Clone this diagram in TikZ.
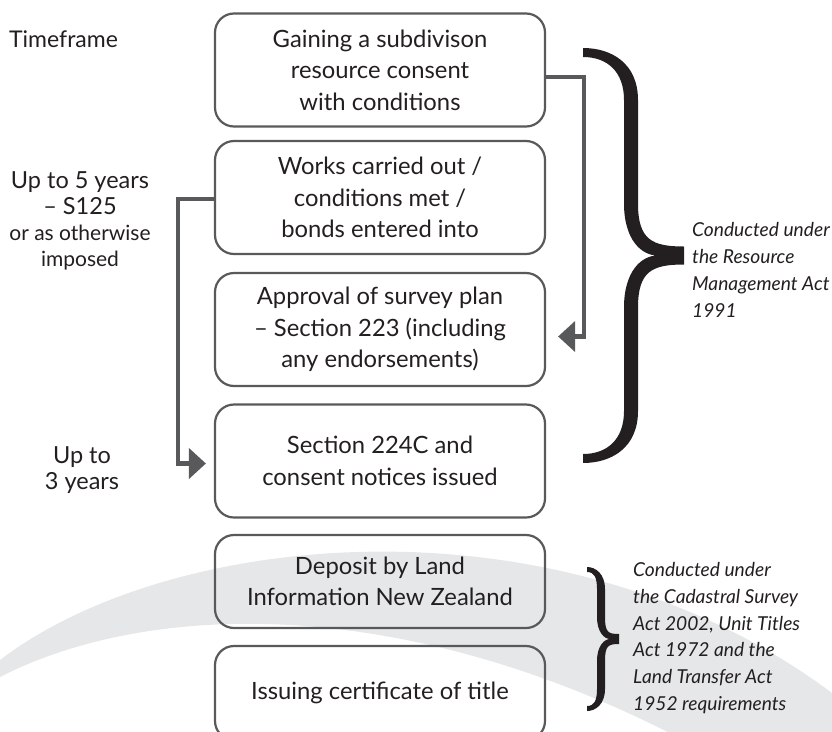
\documentclass[tikz,border=0pt]{standalone}
\usepackage{fontspec}
\setmainfont{Lato}
\usepackage{tikz}
\usetikzlibrary{calc,arrows.meta}
\definecolor{ink}{RGB}{35,31,32}
\definecolor{edge}{RGB}{88,89,91}
\definecolor{swoosh}{RGB}{230,231,232}
% filled curly brace: left, spine, tip, top, bottom, half width, hook, end
\newcommand\curly[8]{%
\fill[ink] (#1,#4) .. controls ({#1+0.6*(#2-#1)},#4) and ({#2+#6},{#4+0.3*#7}) .. ({#2+#6},{#4+#7})
 -- ({#2+#6},{(#4+#5)/2-#7}) .. controls ({#2+#6},{(#4+#5)/2-0.3*#7}) and ({#2+0.4*(#3-#2)},{(#4+#5)/2-#8}) .. (#3,{(#4+#5)/2-#8})
 -- (#3,{(#4+#5)/2+#8}) .. controls ({#2+0.4*(#3-#2)},{(#4+#5)/2+#8}) and ({#2+#6},{(#4+#5)/2+0.3*#7}) .. ({#2+#6},{(#4+#5)/2+#7})
 -- ({#2+#6},{#5-#7}) .. controls ({#2+#6},{#5-0.3*#7}) and ({#1+0.6*(#2-#1)},#5) .. (#1,#5)
 -- (#1,{#5-#8}) .. controls ({#1+0.5*(#2-#1)},{#5-#8}) and ({#2-#6},{#5-0.45*#7}) .. ({#2-#6},{#5-#7})
 -- ({#2-#6},{(#4+#5)/2+#7}) .. controls ({#2-#6},{(#4+#5)/2+0.3*#7}) and ({#2+0.2*(#3-#2)},{(#4+#5)/2}) .. ({#2+0.5*(#3-#2)},{(#4+#5)/2})
 .. controls ({#2+0.2*(#3-#2)},{(#4+#5)/2}) and ({#2-#6},{(#4+#5)/2-0.3*#7}) .. ({#2-#6},{(#4+#5)/2-#7})
 -- ({#2-#6},{#4+#7}) .. controls ({#2-#6},{#4+0.45*#7}) and ({#1+0.5*(#2-#1)},{#4+#8}) .. (#1,{#4+#8}) -- cycle;}
\begin{document}
\begin{tikzpicture}[x=1pt, y=-1pt, text=ink,
 box/.style={draw=edge, line width=2.2pt, rounded corners=19pt, minimum width=330pt, minimum height=113pt, align=center, inner sep=0pt, font=\fontsize{23.8}{31.5}\selectfont},
 flow/.style={draw=edge, line width=4.5pt, -{Triangle[length=17pt,width=30pt]}},
 lbl/.style={align=center, inner sep=0pt, font=\fontsize{23.5}{26}\selectfont},
 act/.style={align=left, anchor=west, inner sep=0pt, font=\fontsize{19.2}{26.8}\selectfont\itshape}]
\useasboundingbox (0,0) rectangle (832,731);
\fill[swoosh] (0,660) .. controls (170,530) and (560,490) .. (832,693) -- (832,760) -- (720,760) .. controls (420,590) and (150,600) .. (0,677) -- cycle;
\node[box] (consent) at (380,70) {Gaining a subdivison\\resource consent\\with conditions};
\node[box] (works) at (380,197.5) {Works carried out /\\conditions met /\\bonds entered into};
\node[box] (survey) at (380,329.5) {Approval of survey plan\\– Section 223 (including\\any endorsements)};
\node[box] (notices) at (380,461) {Section 224C and\\consent notices issued};
\node[box, minimum height=93pt] (deposit) at (380,581.5) {Deposit by Land\\Information New Zealand};
\node[box, minimum height=94pt] (title) at (380,693) {Issuing certificate of title};
\node[lbl, anchor=west, font=\fontsize{23}{26}\selectfont] (timeframe) at (9,39) {Timeframe};
\node[lbl] (five) at (80,221) {Up to 5 years\\– S125\\{\fontsize{21}{26}\selectfont or as otherwise}\\{\fontsize{21}{26}\selectfont imposed}};
\node[lbl] (three) at (82,470) {Up to\\3 years};
\draw[flow] ([yshift=-7pt]consent.east) -- ++(38,0) |- ([xshift=12pt,yshift=-7pt]survey.east);
\draw[flow] ([yshift=-1.5pt]works.west) -- ++(-36,0) |- ([xshift=-8pt,yshift=-2.5pt]notices.west);
\curly{583}{631}{684}{48}{463}{7}{52}{9}
\curly{587}{601}{619}{567}{711}{4}{22}{5}
\node[act] (rma) at (692,270) {Conducted under\\the Resource\\Management Act\\1991};
\node[act] (csa) at (633,638) {Conducted under\\the Cadastral Survey\\Act 2002, Unit Titles\\Act 1972 and the\\Land Transfer Act\\1952 requirements};
\end{tikzpicture}
\end{document}
